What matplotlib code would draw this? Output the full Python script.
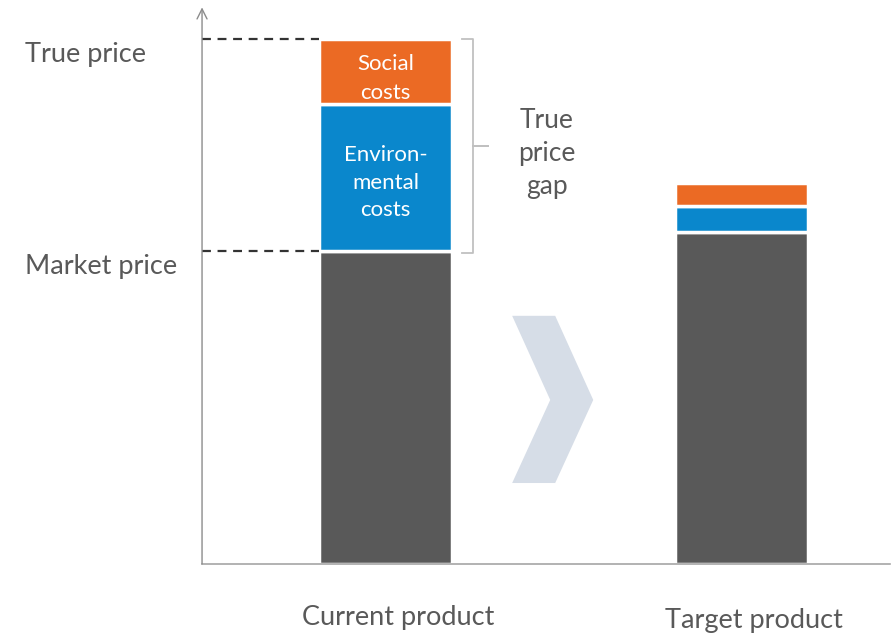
import matplotlib.pyplot as plt
from matplotlib.patches import Polygon

plt.rcParams['font.family'] = ['Lato', 'DejaVu Sans']

# Datos
productos = ['Current product', 'Target product']
precio_mercado = [60, 63.5]
costes_ambientales = [28, 5]
costes_sociales = [12.5, 4.5]

gris = '#595959'
azul = '#0A87CC'
naranja = '#EB6A24'
texto = '#595959'

fig = plt.figure(figsize=(8.92, 6.35), dpi=100)
ax = fig.add_axes([0.2265, 0.1118, 0.7715, 0.8722])

x = [0, 1]
ancho = 0.374
base2 = [m + a for m, a in zip(precio_mercado, costes_ambientales)]
ax.bar(x, precio_mercado, width=ancho, color=gris, edgecolor='white', linewidth=2.5)
ax.bar(x, costes_ambientales, width=ancho, bottom=precio_mercado, color=azul,
       edgecolor='white', linewidth=2.5)
ax.bar(x, costes_sociales, width=ancho, bottom=base2, color=naranja,
       edgecolor='white', linewidth=2.5)

ax.set_xlim(-0.516, 1.419)
ax.set_ylim(0, 106)

# Ejes
for s in ['top', 'right', 'left']:
    ax.spines[s].set_visible(False)
ax.spines['bottom'].set_color('#a6a6a6')
ax.spines['bottom'].set_linewidth(1.2)
ax.set_xticks([])
ax.set_yticks([])
ax.annotate('', xy=(0, 1.005), xycoords='axes fraction', xytext=(0, 0),
            arrowprops=dict(arrowstyle='->', color='#8c8c8c', lw=1.0,
                            mutation_scale=18, shrinkA=0, shrinkB=0))

# Líneas discontinuas
precio_real = base2[0] + costes_sociales[0]
izq = x[0] - ancho / 2
ax.plot([-0.516, izq], [precio_real, precio_real], ls=(0, (4, 3)), color='#333333', lw=1.6,
        clip_on=False)
ax.plot([-0.516, izq], [precio_mercado[0], precio_mercado[0]], ls=(0, (4, 3)),
        color='#333333', lw=1.6, clip_on=False)

ax.text(-0.257, precio_real - 3, 'True price', transform=ax.get_yaxis_transform(),
        ha='left', va='center', fontsize=19.5, color=texto)
ax.text(-0.257, precio_mercado[0] - 3, 'Market price', transform=ax.get_yaxis_transform(),
        ha='left', va='center', fontsize=19.5, color=texto)

# Textos en barras
ax.text(x[0], base2[0] + costes_sociales[0] / 2 - 1.3, 'Social\ncosts', ha='center',
        va='center', fontsize=16, color='white', linespacing=1.6)
ax.text(x[0], precio_mercado[0] + costes_ambientales[0] / 2 - 1, 'Environ-\nmental\ncosts',
        ha='center', va='center', fontsize=16, color='white', linespacing=1.45)

# Llave
bx0, bx1, bx2 = 0.215, 0.246, 0.288
y0, y1 = precio_mercado[0] - 0.5, precio_real
ym = (y0 + y1) / 2
ax.plot([bx0, bx1, bx1, bx2, bx1, bx1, bx0], [y1, y1, ym, ym, ym, y0, y0],
        color='#c0c0c0', lw=1.3, solid_joinstyle='round')
ax.text(0.454, ym - 1.5, 'True\nprice\ngap', ha='center', va='center', fontsize=19,
        color=texto, linespacing=1.4)

# Flecha chevron
chev = Polygon([[0.356, 47.5], [0.477, 47.5], [0.584, 31.4], [0.477, 15.5],
                [0.356, 15.5], [0.463, 31.4]], closed=True, facecolor='#d6dde7',
               edgecolor='none')
ax.add_patch(chev)

# Etiquetas de categoría
for xi, nombre, dy in zip(x, productos, [-10.2, -10.8]):
    ax.text(xi + 0.035, dy, nombre, ha='center', va='center', fontsize=19.5, color=texto,
            clip_on=False)

fig.savefig('out.png', dpi=100)
